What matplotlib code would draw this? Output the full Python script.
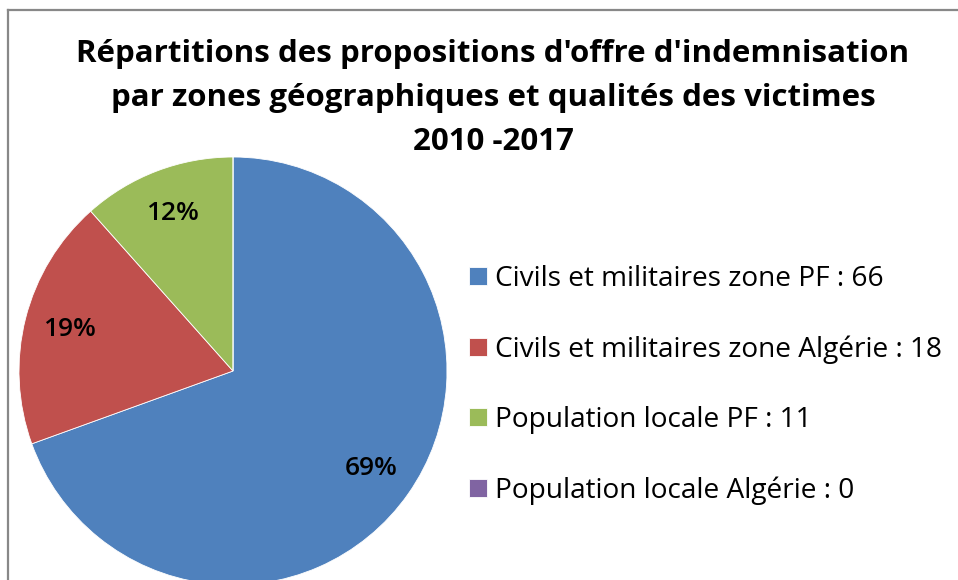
import matplotlib
matplotlib.use("Agg")
import matplotlib.pyplot as plt
from matplotlib.lines import Line2D
import numpy as np

categories = ["Civils et militaires zone PF", "Civils et militaires zone Algérie",
              "Population locale PF", "Population locale Algérie"]
values = [66, 18, 11, 0]
pct_labels = ["69%", "19%", "12%", ""]
colors = ["#4F81BD", "#C0504D", "#9BBB59", "#8064A2"]
title = "Répartitions des propositions d'offre d'indemnisation\npar zones géographiques et qualités des victimes\n2010 -2017"

plt.rcParams['font.family'] = ['Open Sans', 'DejaVu Sans']

W, H = 958, 580
fig = plt.figure(figsize=(W / 100, H / 100), dpi=100)

cx, cy, r = 233, 371, 214
ax = fig.add_axes([(cx - r) / W, (H - cy - r) / H, 2 * r / W, 2 * r / H])
wedges, _ = ax.pie(values, colors=colors, startangle=90, counterclock=False,
                   radius=1, wedgeprops=dict(edgecolor="white", linewidth=0.6))
total = sum(values)
ang = 90.0
for v, lab in zip(values, pct_labels):
    span = 360.0 * v / total
    mid = np.deg2rad(ang - span / 2)
    ang -= span
    if lab:
        ax.text(0.79 * np.cos(mid), 0.79 * np.sin(mid), lab, ha="center", va="center",
                fontsize=19, fontweight="semibold", color="black")
ax.set_xlim(-1, 1)
ax.set_ylim(-1, 1)
ax.set_aspect("equal")
ax.axis("off")

fig.text(493 / W, 1 - 98 / H, title, ha="center", va="center", fontsize=22.5,
         fontweight="bold", linespacing=1.62)

leg_labels = [f"{c} : {v}" for c, v in zip(categories, values)]
leg = fig.legend(wedges, leg_labels, loc="center left",
                 bbox_to_anchor=(458 / W, 1 - 385 / H), frameon=False,
                 fontsize=20.2, handlelength=0.62, handleheight=0.62,
                 handletextpad=0.3, labelspacing=1.51, borderaxespad=0)

fig.add_artist(Line2D([8 / W, 8 / W], [-0.05, 1 - 10 / H], transform=fig.transFigure,
                      color="#888888", linewidth=1.6))
fig.add_artist(Line2D([8 / W, 1.05], [1 - 10 / H, 1 - 10 / H], transform=fig.transFigure,
                      color="#888888", linewidth=1.6))

fig.savefig("out.png", dpi=100)
